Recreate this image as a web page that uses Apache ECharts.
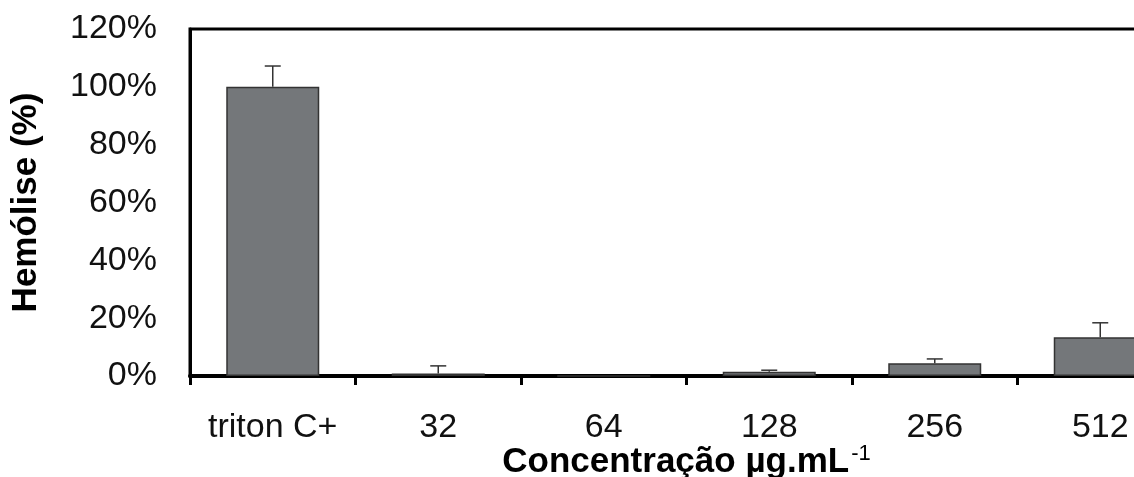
<!DOCTYPE html>
<html>
<head>
<meta charset="utf-8">
<script src="https://cdn.jsdelivr.net/npm/echarts@6/dist/echarts.min.js"></script>
<style>
  html, body { margin: 0; padding: 0; background: #fff; }
  #chart { width: 1134px; height: 477px; }
</style>
</head>
<body>
<div id="chart"></div>
<script>
const categories = ['triton C+', '32', '64', '128', '256', '512'];
const hemolysis = [100, 0.9, 0, 1.5, 4.4, 13.4];
const errors = [7.2, 2.6, 0, 0.5, 1.5, 5];
const yTicks = { min: 0, max: 120, interval: 20 };

const font = 'Liberation Sans, Arial, sans-serif';

const chart = echarts.init(document.getElementById('chart'));

const errorData = hemolysis.map((v, i) => [i, v, v + errors[i]]);

chart.setOption({
  animation: false,
  grid: {
    left: 190,
    top: 29,
    width: 993,
    height: 347,
    containLabel: false,
    outerBoundsMode: 'none',
    show: true,
    borderColor: '#000',
    borderWidth: 3,
    backgroundColor: 'transparent'
  },
  xAxis: {
    type: 'category',
    data: categories,
    axisLine: { lineStyle: { color: '#000', width: 4 } },
    axisTick: { show: true, length: 9, lineStyle: { color: '#000', width: 3 } },
    axisLabel: { color: '#111', fontSize: 34, fontFamily: font, margin: 35, interval: 0 },
    name: 'Concentração µg.mL{sup|-1}',
    nameLocation: 'middle',
    nameGap: 67,
    nameMoveOverlap: false,
    nameTextStyle: {
      color: '#000',
      fontSize: 35,
      fontWeight: 'bold',
      fontFamily: font,
      rich: {
        sup: { fontSize: 22, fontWeight: 'normal', fontFamily: font, color: '#000', verticalAlign: 'top', padding: [0, 0, 16, 2] }
      }
    }
  },
  yAxis: {
    type: 'value',
    min: yTicks.min,
    max: yTicks.max,
    interval: yTicks.interval,
    splitLine: { show: false },
    axisLine: { show: true, lineStyle: { color: '#000', width: 3 } },
    axisTick: { show: false },
    axisLabel: { color: '#111', fontSize: 34, fontFamily: font, margin: 33, formatter: '{value}%' },
    name: 'Hemólise (%)',
    nameLocation: 'middle',
    nameGap: 146,
    nameMoveOverlap: false,
    nameTextStyle: { color: '#000', fontSize: 35, fontWeight: 'bold', fontFamily: font }
  },
  series: [
    {
      type: 'bar',
      data: hemolysis,
      barWidth: 93,
      itemStyle: { color: '#74777a', borderColor: '#333', borderWidth: 1.5 }
    },
    {
      type: 'custom',
      data: errorData,
      z: 3,
      renderItem: function (params, api) {
        if (api.value(2) <= api.value(1)) return null;
        const base = api.coord([api.value(0), api.value(1)]);
        const top = api.coord([api.value(0), api.value(2)]);
        const half = 8;
        const style = { stroke: '#333', lineWidth: 1.5 };
        return {
          type: 'group',
          children: [
            { type: 'line', shape: { x1: base[0], y1: base[1], x2: top[0], y2: top[1] }, style: style },
            { type: 'line', shape: { x1: top[0] - half, y1: top[1], x2: top[0] + half, y2: top[1] }, style: style }
          ]
        };
      }
    }
  ]
});
</script>
</body>
</html>
